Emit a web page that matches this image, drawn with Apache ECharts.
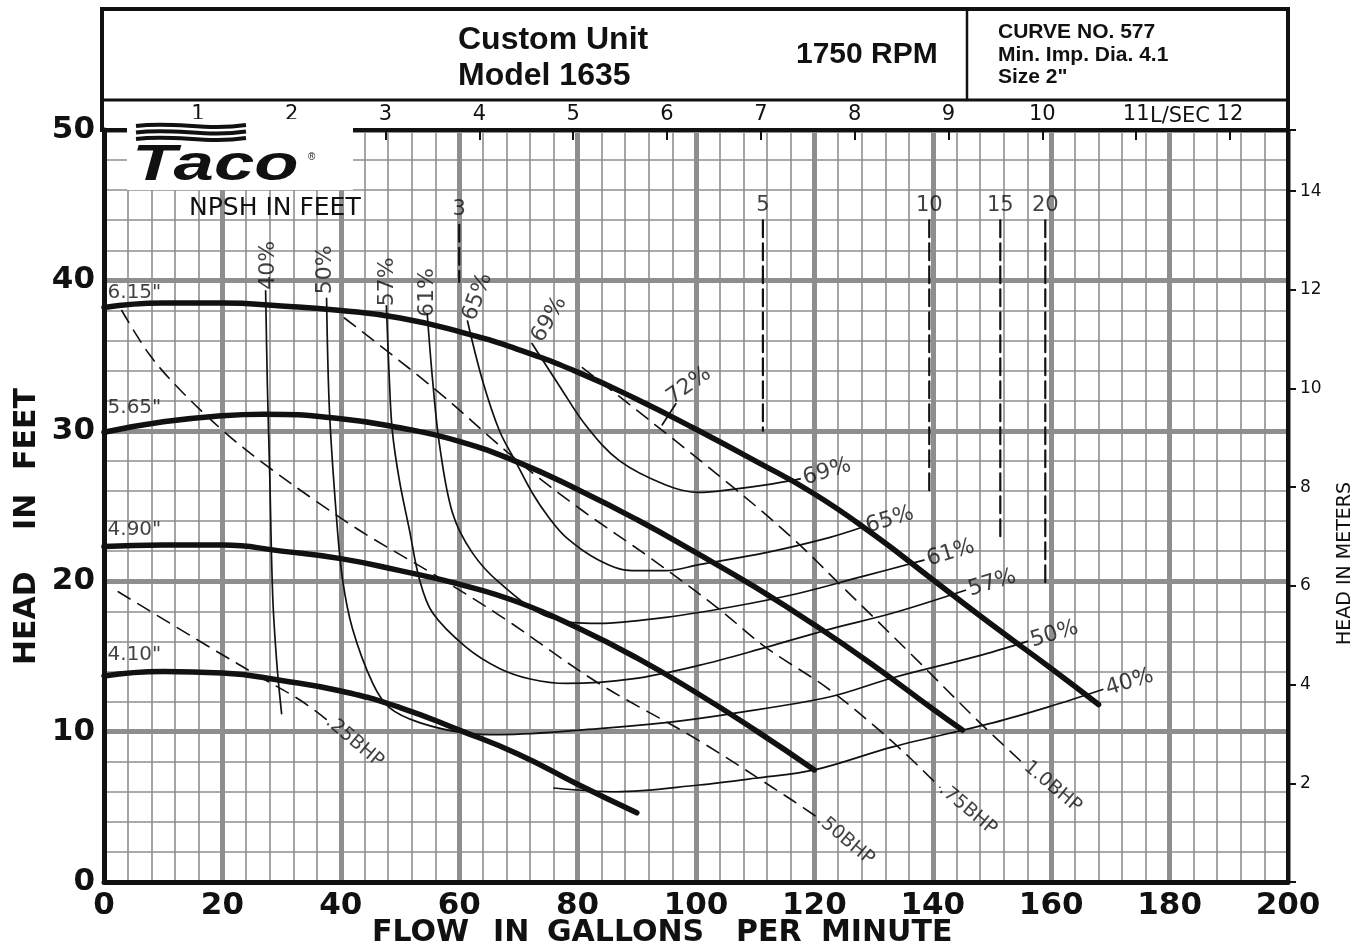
<!DOCTYPE html>
<html><head><meta charset="utf-8">
<script src="https://cdn.jsdelivr.net/npm/echarts@6/dist/echarts.min.js"></script>
<style>html,body{margin:0;padding:0;background:#fff}#c{width:1360px;height:949px}</style>
</head><body><div id="c"></div>
<script>
// ===== DATA: flow in GPM, head in feet =====
const HEAD_615 = [[0,38.2],[10,38.5],[20,38.5],[30,38.3],[40,38.0],[50,37.5],[60,36.6],[70,35.4],[80,33.9],[90,32.1],[100,30.1],[110,28.0],[120,25.8],[130,23.1],[140,20.1],[150,17.1],[160,14.2],[168,11.8]];
const HEAD_565 = [[0,29.9],[10,30.6],[20,31.0],[27,31.1],[40,30.8],[50,30.2],[60,29.3],[70,27.9],[80,26.1],[90,24.1],[100,21.9],[110,19.6],[120,17.1],[130,14.4],[140,11.5],[145,10.1]];
const HEAD_490 = [[0,22.3],[10,22.4],[20,22.4],[30,22.0],[40,21.5],[50,20.7],[60,19.8],[70,18.6],[80,16.9],[90,14.9],[100,12.6],[110,10.1],[120,7.45]];
const HEAD_410 = [[0,13.7],[10,14.0],[20,13.9],[30,13.4],[40,12.7],[50,11.6],[60,10.1],[70,8.5],[80,6.5],[90,4.6]];
const IMPELLER_NAMES = ['6.15"','5.65"','4.90"','4.10"'];
const IMPELLER_LABEL_AT = [[0.6,39.2],[0.6,31.5],[0.6,23.4],[0.6,15.1]];

const EFF_40_LOW = [[27.3,39.3],[27.6,33.0],[28.0,27.0],[28.5,19.0],[29.2,14.5],[30.0,11.2]];
const EFF_40_HIGH = [[76.0,6.25],[86.5,6.0],[100.5,6.45],[110,6.9],[120,7.45],[133.4,9.0],[150.3,10.6],[160,11.7],[168.7,12.8]];
const EFF_50 = [[37.6,38.8],[38.1,31.2],[39.3,24.1],[40.3,20.1],[42.0,16.8],[45.4,13.2],[48.2,11.6],[53.3,10.6],[61.2,9.9],[67.0,9.8],[83.6,10.2],[94.9,10.6],[106.1,11.2],[122.5,12.3],[133.4,13.6],[147.4,15.0],[156.0,16.0]];
const EFF_57 = [[47.7,38.3],[48.2,33.4],[48.7,30.0],[49.9,26.7],[51.6,23.4],[53.3,20.1],[55.5,17.9],[61.2,15.6],[66.8,14.2],[72.0,13.5],[78.1,13.2],[89.2,13.5],[100.5,14.4],[111.8,15.6],[122.5,16.8],[133.4,17.9],[145.5,19.4]];
const EFF_61 = [[54.6,37.8],[55.5,33.4],[56.7,29.0],[58.9,24.5],[62.2,21.9],[66.8,19.9],[75.2,17.6],[83.6,17.2],[94.9,17.6],[106.1,18.3],[117.4,19.2],[128.0,20.3],[138.5,21.4]];
const EFF_65 = [[61.4,37.3],[63.9,33.4],[66.8,30.0],[69.6,27.9],[72.3,25.9],[75.2,24.2],[78.1,22.9],[83.6,21.4],[89.2,20.7],[94.9,20.7],[100.5,21.1],[111.8,21.9],[122.5,22.9],[128.2,23.6]];
const EFF_69 = [[72.3,35.8],[76.9,33.0],[81.5,30.3],[87.1,28.0],[94.9,26.4],[100.5,25.9],[106.1,26.1],[111.8,26.4],[117.6,26.8]];
const EFF_72 = [[94.3,30.4],[96.6,31.8]];
const EFF_TOP_NAMES = ['40%','50%','57%','61%','65%','69%','72%'];
const EFF_TOP_AT = [[27.7,41.0],[37.3,40.7],[47.9,39.9],[54.6,39.2],[63.1,38.9],[75.2,37.4],[98.8,33.0]];
const EFF_END_NAMES = ['69%','65%','61%','57%','50%','40%'];

const BHP_025 = [[2.4,19.3],[17.9,15.6],[26.3,13.65],[33.1,12.1],[37.6,10.8]];
const BHP_050 = [[3.0,38.0],[7.8,35.0],[13.4,32.5],[20.7,29.8],[27.4,27.7],[35.9,25.3],[44.3,23.1],[55.5,20.5],[67.3,17.6],[83.6,13.2],[100.5,9.4],[116.2,5.45],[120.5,4.3]];
const BHP_075 = [[40.6,37.5],[55.5,32.9],[70.2,27.9],[80.8,24.7],[92.1,21.6],[103.4,18.3],[111.8,15.6],[122.5,12.8],[133.4,9.25],[141.2,6.3]];
const BHP_100 = [[80.8,34.2],[89.9,31.4],[106.1,26.3],[116.2,22.9],[124.8,19.6],[136.2,15.2],[147.4,10.8],[155.5,7.8]];
const BHP_NAMES = ['.25BHP','.50BHP','.75BHP','1.0BHP'];

const NPSH_NAMES = ['3','5','10','15','20'];
const NPSH_FLOW = [60, 111.3, 139.4, 151.4, 159.0];
const NPSH_TOP = [43.7, 44.0, 44.0, 44.0, 44.0];
const NPSH_BOTTOM = [39.9, 30.0, 25.7, 22.7, 19.6];

const GPM_PER_LPS = 15.85;
const FT_PER_M = 3.28084;

// ===== chart =====
const INK = '#111';
const GRIDC = '#8e8e8e';
const chart = echarts.init(document.getElementById('c'));

function curve(data, width, dash, smooth) {
  return {type:'line', data, showSymbol:false, symbol:'none', smooth: smooth == null ? 0.35 : smooth, silent:true,
    lineStyle:{color:INK, width, type: dash || 'solid', cap:'round', join:'round'}, z: width > 3 ? 6 : 5};
}
function labels(points, names, cfg) {
  return {type:'scatter', silent:true, symbolSize:1, itemStyle:{color:'rgba(0,0,0,0)'}, z:12,
    data: points.map((p,i)=>({value:p, name:names[i], label:{rotate: Array.isArray(cfg.rotate) ? cfg.rotate[i] : (cfg.rotate||0)}})),
    label:{show:true, formatter:p=>p.name, position:cfg.position, distance:cfg.distance||0,
      fontFamily:'DejaVu Sans', fontSize:cfg.fontSize, color:INK, align:cfg.align, verticalAlign:cfg.verticalAlign}};
}

const series = [
  curve(HEAD_615, 5.5, null, 0.5), curve(HEAD_565, 5.5, null, 0.5), curve(HEAD_490, 5.5, null, 0.5), curve(HEAD_410, 5.5, null, 0.5),
  curve(EFF_40_LOW, 1.7), curve(EFF_40_HIGH, 1.7), curve(EFF_50, 1.7), curve(EFF_57, 1.7),
  curve(EFF_61, 1.7), curve(EFF_65, 1.7), curve(EFF_69, 1.7), curve(EFF_72, 1.7),
  curve(BHP_025, 1.6, [14,9]), curve(BHP_050, 1.6, [14,9]), curve(BHP_075, 1.6, [14,9]), curve(BHP_100, 1.6, [14,9])
];
NPSH_FLOW.forEach((q,i)=>{
  series.push(curve([[q,NPSH_TOP[i]],[q,NPSH_BOTTOM[i]]], 2.2, [17,6], false));
});
series.push(labels(IMPELLER_LABEL_AT, IMPELLER_NAMES, {position:'inside', fontSize:20, align:'left', verticalAlign:'middle'}));
series.push(labels(EFF_TOP_AT, EFF_TOP_NAMES, {position:'inside', fontSize:22, align:'center', verticalAlign:'middle', rotate:[90,90,90,90,70,60,35]}));
const effEnds = [EFF_69, EFF_65, EFF_61, EFF_57, EFF_50, EFF_40_HIGH].map(a=>a[a.length-1]);
series.push(labels(effEnds, EFF_END_NAMES, {position:'right', distance:3, fontSize:22, align:'left', verticalAlign:'middle', rotate:17}));
const bhpEnds = [BHP_025, BHP_050, BHP_075, BHP_100].map(a=>a[a.length-1]);
series.push(labels(bhpEnds, BHP_NAMES, {position:'right', distance:1, fontSize:19, align:'left', verticalAlign:'middle', rotate:-40}));
series.push(labels(NPSH_FLOW.map((q,i)=>[q,NPSH_TOP[i]]), NPSH_NAMES, {position:'top', distance:4, fontSize:21, align:'center', verticalAlign:'bottom'}));

const bigLabel = {fontFamily:'DejaVu Sans', fontWeight:'bold', fontSize:31, color:INK};
function txt(x, y, text, font, extra) {
  return Object.assign({type:'text', x, y, z:120, silent:true,
    style:{text, font, fill:INK, align:'left', verticalAlign:'middle', textAlign:'left', textVerticalAlign:'middle'}}, extra||{});
}
function ln(x1,y1,x2,y2,w) {
  return {type:'line', z:110, silent:true, shape:{x1,y1,x2,y2}, style:{stroke:INK, lineWidth:w}};
}
function wave(y) {
  return {type:'bezierCurve', z:121, silent:true, shape:{x1:136,y1:y,cpx1:175,cpy1:y-5,cpx2:205,cpy2:y+5,x2:246,y2:y-1},
    style:{stroke:INK, lineWidth:4, fill:null}};
}
const TF = '"Liberation Sans", Arial, sans-serif';
const graphic = [
  ln(100,9,1290,9,4), ln(101,100,1290,100,3), ln(102,7,102,132,4), ln(1288,7,1288,132,4), ln(967,9,967,100,2.5),
  txt(458,40,'Custom Unit','bold 32px '+TF), txt(458,76,'Model 1635','bold 32px '+TF),
  txt(796,55,'1750 RPM','bold 30px '+TF),
  txt(998,32,'CURVE NO. 577','bold 21px '+TF), txt(998,55,'Min. Imp. Dia. 4.1','bold 21px '+TF), txt(998,77,'Size 2"','bold 21px '+TF),
  {type:'rect', z:115, silent:true, shape:{x:127,y:119,width:226,height:71}, style:{fill:'#fff'}},
  wave(126), wave(132.5), wave(139),
  txt(132,166,'Taco','italic 900 50px '+TF, {scaleX:1.45, z:121}),
  txt(308,157,'®','10px '+TF, {z:121}),
  txt(189,208,'NPSH IN FEET','25px "DejaVu Sans"'),
  txt(1150,117,'L/SEC','21px "DejaVu Sans"'),
  txt(372,933,'FLOW','bold 30px "DejaVu Sans"'), txt(493,933,'IN','bold 30px "DejaVu Sans"'),
  txt(547,933,'GALLONS','bold 30px "DejaVu Sans"'), txt(736,933,'PER','bold 30px "DejaVu Sans"'),
  txt(821,933,'MINUTE','bold 30px "DejaVu Sans"'),
  txt(27,665,'HEAD','bold 30px "DejaVu Sans"', {rotation:Math.PI/2}),
  txt(27,530,'IN','bold 30px "DejaVu Sans"', {rotation:Math.PI/2}),
  txt(27,470,'FEET','bold 30px "DejaVu Sans"', {rotation:Math.PI/2}),
  txt(1345,645,'HEAD IN METERS','19px "DejaVu Sans"', {rotation:Math.PI/2})
];

chart.setOption({
  animation:false,
  backgroundColor:'#fff',
  grid:{left:104, right:72, top:130, bottom:67},
  xAxis:[
    {type:'value', min:0, max:200, interval:20, position:'bottom',
      axisLine:{onZero:false, lineStyle:{color:INK, width:5}}, axisTick:{show:false},
      axisLabel:Object.assign({margin:8}, bigLabel),
      splitLine:{show:true, lineStyle:{color:GRIDC, width:5}},
      minorTick:{show:false, splitNumber:5},
      minorSplitLine:{show:true, lineStyle:{color:GRIDC, width:1.6}}},
    {type:'value', min:0, max:200/GPM_PER_LPS, interval:1, position:'top',
      axisLine:{onZero:false, lineStyle:{color:INK, width:4}},
      axisTick:{show:true, inside:true, length:10, lineStyle:{color:INK, width:2}},
      axisLabel:{margin:5, fontFamily:'DejaVu Sans', fontSize:21, color:INK,
        formatter:v=> (v>0 && Math.abs(v-Math.round(v))<1e-6) ? String(Math.round(v)) : ''},
      splitLine:{show:false}}
  ],
  yAxis:[
    {type:'value', min:0, max:50, interval:10, position:'left',
      axisLine:{show:true, onZero:false, lineStyle:{color:INK, width:5}}, axisTick:{show:false},
      axisLabel:Object.assign({margin:9}, bigLabel),
      splitLine:{show:true, lineStyle:{color:GRIDC, width:5}},
      minorTick:{show:false, splitNumber:5},
      minorSplitLine:{show:true, lineStyle:{color:GRIDC, width:1.6}}},
    {type:'value', min:0, max:50/FT_PER_M, interval:2, position:'right',
      axisLine:{show:true, onZero:false, lineStyle:{color:INK, width:4}},
      axisTick:{show:true, length:8, lineStyle:{color:INK, width:2}},
      axisLabel:{margin:12, fontFamily:'DejaVu Sans', fontSize:17, color:INK,
        formatter:v=> (v>0 && Math.abs(v-Math.round(v))<1e-6) ? String(Math.round(v)) : ''},
      splitLine:{show:false}}
  ],
  series: series,
  graphic: graphic
});
</script></body></html>
